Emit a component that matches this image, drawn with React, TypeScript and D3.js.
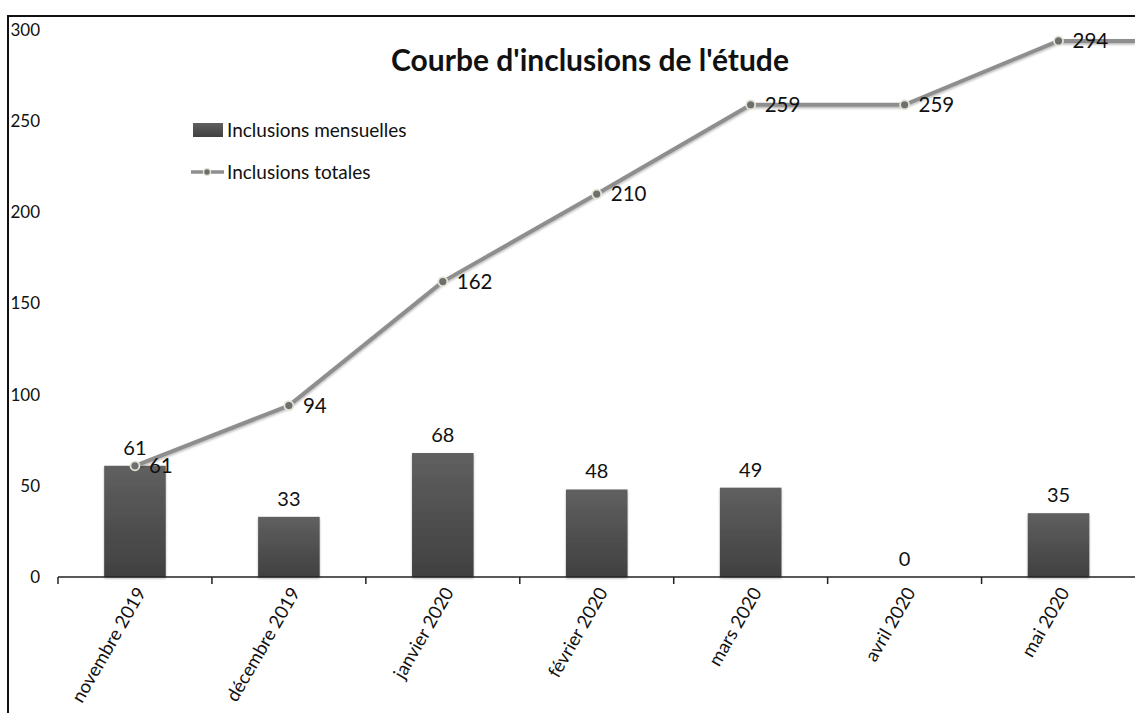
import React from "react";
import * as d3 from "d3";

const months = [
  "novembre 2019",
  "décembre 2019",
  "janvier 2020",
  "février 2020",
  "mars 2020",
  "avril 2020",
  "mai 2020"
];
const monthly = [61, 33, 68, 48, 49, 0, 35];
const cumulative = [61, 94, 162, 210, 259, 259, 294];
const yTicks = [0, 50, 100, 150, 200, 250, 300];

const W = 1135;
const H = 713;
const left = 58;
const right = 1135;
const top = 30;
const bottom = 577;
const font = "Lato, 'Open Sans', sans-serif";

export default function App() {
  const x = d3.scaleBand<string>().domain(months).range([left, right + 0.5]).paddingInner(0).paddingOuter(0);
  const y = d3.scaleLinear().domain([0, 300]).range([bottom, top]);
  const barW = x.bandwidth() * 0.4;
  const cx = (m: string) => (x(m) as number) + x.bandwidth() / 2;

  const line = d3
    .line<number>()
    .x((d, i) => cx(months[i]))
    .y(d => y(d));

  const last = cumulative[cumulative.length - 1];

  return (
    <svg
      width={W}
      height={H}
      style={{ position: "absolute", left: 0, top: 0, background: "#fff" }}
      fontFamily={font}
    >
      <defs>
        <linearGradient id="barGrad" x1="0" y1="0" x2="0" y2="1">
          <stop offset="0%" stopColor="#606060" />
          <stop offset="100%" stopColor="#404040" />
        </linearGradient>
        <filter id="shadow" x="-10%" y="-10%" width="120%" height="130%">
          <feDropShadow dx="0" dy="1.5" stdDeviation="1.2" floodColor="#000" floodOpacity="0.3" />
        </filter>
      </defs>

      <rect x={8} y={16} width={W} height={H} fill="none" stroke="#111" strokeWidth={2} />

      <text x={590} y={71} textAnchor="middle" fontSize={30} fontWeight="bold" fill="#111">
        Courbe d'inclusions de l'étude
      </text>

      {/* y labels */}
      {yTicks.map(t => (
        <text key={t} x={40} y={y(t)} dy="0.35em" textAnchor="end" fontSize={17} fill="#111">
          {t}
        </text>
      ))}

      {/* bars */}
      {months.map((m, i) => (
        <g key={m}>
          {monthly[i] > 0 && (
            <rect
              x={cx(m) - barW / 2}
              y={y(monthly[i])}
              width={barW}
              height={bottom - y(monthly[i])}
              fill="url(#barGrad)"
              filter="url(#shadow)"
            />
          )}
          <text x={cx(m)} y={y(monthly[i]) - 11} textAnchor="middle" fontSize={20} fill="#111">
            {monthly[i]}
          </text>
        </g>
      ))}

      {/* x axis */}
      <line x1={left} x2={right} y1={bottom} y2={bottom} stroke="#222" strokeWidth={1.5} />
      {months.map(m => (
        <line key={m} x1={x(m)} x2={x(m)} y1={bottom} y2={bottom + 7} stroke="#222" strokeWidth={1.5} />
      ))}
      {months.map(m => (
        <text
          key={m}
          transform={`translate(${cx(m) + 6},${bottom + 12}) rotate(-60)`}
          textAnchor="end"
          dy="0.35em"
          fontSize={18.5}
          fill="#111"
        >
          {m}
        </text>
      ))}

      {/* cumulative line */}
      <g filter="url(#shadow)">
        <path d={line(cumulative) as string} fill="none" stroke="#8e8e8e" strokeWidth={4} strokeLinejoin="round" />
        <line x1={cx(months[months.length - 1])} x2={right} y1={y(last)} y2={y(last)} stroke="#8e8e8e" strokeWidth={4} />
      </g>
      {cumulative.map((v, i) => (
        <g key={i}>
          <circle cx={cx(months[i])} cy={y(v)} r={4.5} fill="#6e6e6e" stroke="#e4e4d6" strokeWidth={1.8} />
          <text x={cx(months[i]) + 14} y={y(v)} dy="0.36em" fontSize={20.5} fill="#111">
            {v}
          </text>
        </g>
      ))}

      {/* legend */}
      <rect x={193} y={123} width={30} height={14} fill="url(#barGrad)" />
      <text x={227} y={130} dy="0.35em" fontSize={19} fill="#111">
        Inclusions mensuelles
      </text>
      <line x1={191} x2={224} y1={172} y2={172} stroke="#8e8e8e" strokeWidth={3.5} />
      <circle cx={207} cy={172} r={3.5} fill="#6e6e6e" stroke="#e4e4d6" strokeWidth={1.5} />
      <text x={227} y={172} dy="0.35em" fontSize={19} fill="#111">
        Inclusions totales
      </text>
    </svg>
  );
}
